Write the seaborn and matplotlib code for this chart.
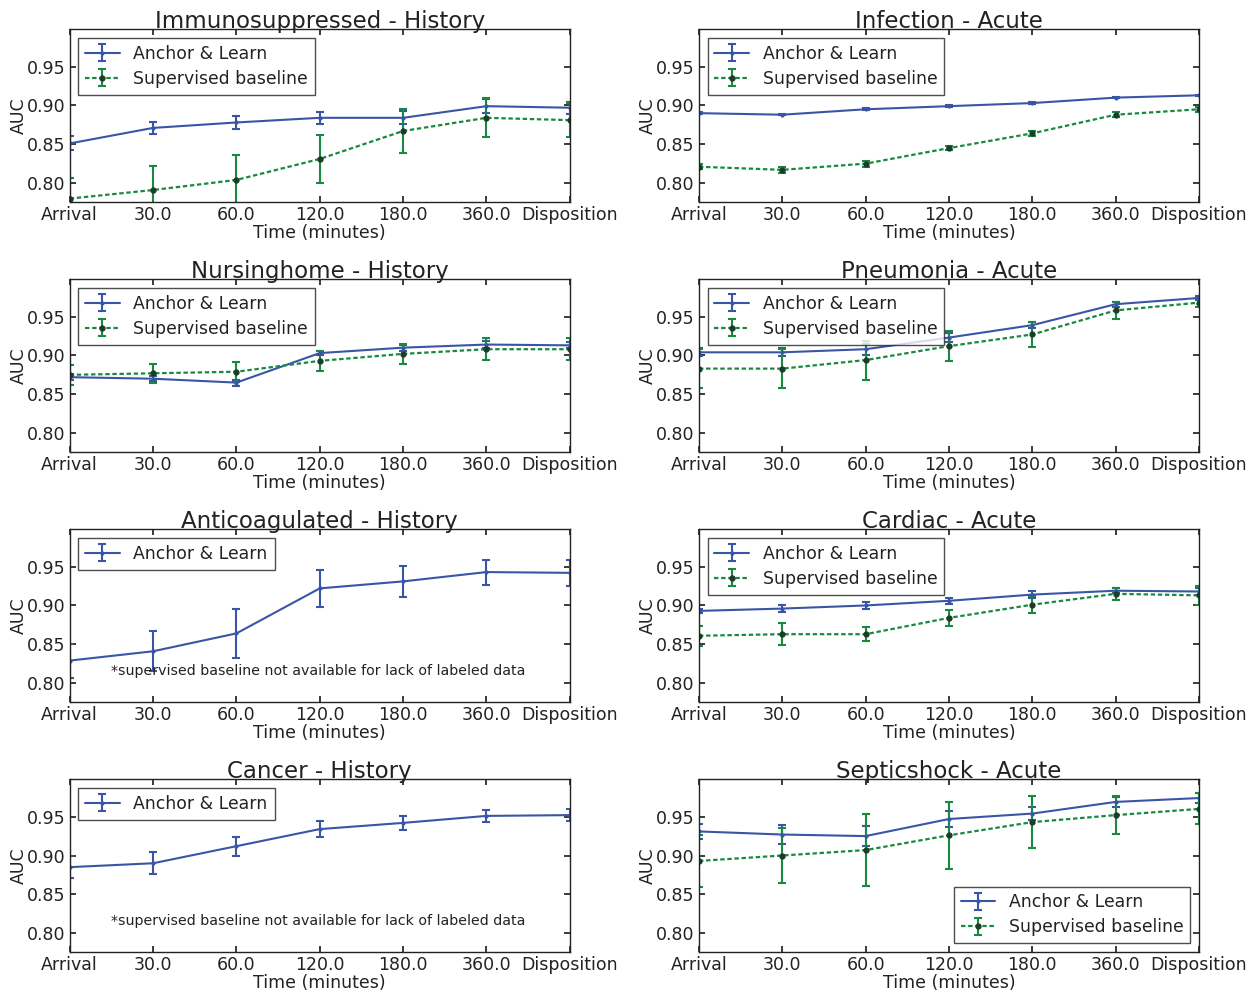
import matplotlib
matplotlib.use("Agg")
import matplotlib.pyplot as plt
import seaborn as sns
import numpy as np

# ---------------------------------------------------------------------------
# Data
# ---------------------------------------------------------------------------
time_labels = ["Arrival", "30.0", "60.0", "120.0", "180.0", "360.0", "Disposition"]

panel_titles = [
    "Immunosuppressed - History", "Infection - Acute",
    "Nursinghome - History", "Pneumonia - Acute",
    "Anticoagulated - History", "Cardiac - Acute",
    "Cancer - History", "Septicshock - Acute",
]

# Anchor & Learn / supervised baseline mean AUC and error
immuno_anchor = [0.851, 0.871, 0.878, 0.884, 0.884, 0.899, 0.897]
immuno_anchor_err = [0.009, 0.008, 0.008, 0.008, 0.0085, 0.009, 0.008]
immuno_sup = [0.780, 0.791, 0.804, 0.831, 0.867, 0.884, 0.881]
immuno_sup_err = [0.026, 0.031, 0.032, 0.031, 0.028, 0.025, 0.022]

infect_anchor = [0.890, 0.888, 0.895, 0.899, 0.903, 0.910, 0.913]
infect_anchor_err = [0.001, 0.001, 0.001, 0.001, 0.001, 0.001, 0.001]
infect_sup = [0.821, 0.817, 0.825, 0.845, 0.864, 0.888, 0.895]
infect_sup_err = [0.003, 0.004, 0.004, 0.003, 0.003, 0.003, 0.003]

nursing_anchor = [0.872, 0.870, 0.865, 0.903, 0.910, 0.914, 0.913]
nursing_anchor_err = [0.004, 0.003, 0.004, 0.003, 0.004, 0.005, 0.004]
nursing_sup = [0.875, 0.877, 0.879, 0.893, 0.902, 0.908, 0.908]
nursing_sup_err = [0.013, 0.012, 0.013, 0.013, 0.013, 0.014, 0.014]

pneu_anchor = [0.904, 0.904, 0.908, 0.923, 0.939, 0.966, 0.974]
pneu_anchor_err = [0.005, 0.005, 0.007, 0.006, 0.004, 0.003, 0.003]
pneu_sup = [0.883, 0.883, 0.894, 0.912, 0.927, 0.958, 0.968]
pneu_sup_err = [0.025, 0.025, 0.025, 0.019, 0.016, 0.011, 0.006]

anticoag_anchor = [0.829, 0.841, 0.864, 0.922, 0.931, 0.943, 0.942]
anticoag_anchor_err = [0.022, 0.026, 0.032, 0.024, 0.020, 0.016, 0.017]

cardiac_anchor = [0.893, 0.896, 0.900, 0.906, 0.914, 0.919, 0.918]
cardiac_anchor_err = [0.003, 0.004, 0.004, 0.004, 0.004, 0.003, 0.004]
cardiac_sup = [0.861, 0.863, 0.863, 0.884, 0.901, 0.915, 0.913]
cardiac_sup_err = [0.013, 0.014, 0.009, 0.010, 0.011, 0.008, 0.012]

cancer_anchor = [0.885, 0.890, 0.912, 0.934, 0.942, 0.951, 0.952]
cancer_anchor_err = [0.014, 0.014, 0.012, 0.010, 0.009, 0.008, 0.008]

septic_anchor = [0.931, 0.927, 0.925, 0.947, 0.954, 0.969, 0.974]
septic_anchor_err = [0.010, 0.012, 0.0125, 0.010, 0.008, 0.006, 0.006]
septic_sup = [0.893, 0.900, 0.907, 0.926, 0.943, 0.952, 0.960]
septic_sup_err = [0.034, 0.035, 0.046, 0.043, 0.033, 0.024, 0.020]

panels = [
    (immuno_anchor, immuno_anchor_err, immuno_sup, immuno_sup_err),
    (infect_anchor, infect_anchor_err, infect_sup, infect_sup_err),
    (nursing_anchor, nursing_anchor_err, nursing_sup, nursing_sup_err),
    (pneu_anchor, pneu_anchor_err, pneu_sup, pneu_sup_err),
    (anticoag_anchor, anticoag_anchor_err, None, None),
    (cardiac_anchor, cardiac_anchor_err, cardiac_sup, cardiac_sup_err),
    (cancer_anchor, cancer_anchor_err, None, None),
    (septic_anchor, septic_anchor_err, septic_sup, septic_sup_err),
]

BLUE = "#3a55a6"
GREEN = "#178a40"
DARK = "#1d3b2b"
INK = "#222222"

sns.set_theme(style="ticks")
plt.rcParams.update({
    "font.family": ["DejaVu Sans"],
    "axes.edgecolor": INK,
    "axes.linewidth": 1.0,
    "xtick.direction": "in",
    "ytick.direction": "in",
    "xtick.top": True,
    "ytick.right": True,
    "xtick.major.size": 4,
    "ytick.major.size": 4,
    "xtick.color": INK,
    "ytick.color": INK,
    "text.color": INK,
    "axes.labelcolor": INK,
})

fig = plt.figure(figsize=(12.58, 9.93), dpi=100)
x = np.arange(len(time_labels))

for i, (title, (a, a_err, s, s_err)) in enumerate(zip(panel_titles, panels)):
    row, col = divmod(i, 2)
    left = 0.0554 if col == 0 else 0.5556
    bottom = 0.7969 - row * 0.2518
    ax = fig.add_axes([left, bottom, 0.3975, 0.1736])

    ax.errorbar(x, a, yerr=a_err, color=BLUE, lw=1.5, marker=".", ms=4,
                capsize=3, capthick=1.5, elinewidth=1.5, label="Anchor & Learn")
    if s is not None:
        ax.errorbar(x, s, yerr=s_err, color=GREEN, lw=1.6, ls=(0, (2, 1.2)),
                    marker="o", ms=3.5, mfc=DARK, mec=DARK, capsize=3,
                    capthick=1.5, elinewidth=1.5, label="Supervised baseline")
    else:
        ax.text(0.5, 0.8155, "*supervised baseline not available for lack of labeled data",
                fontsize=10.2, ha="left", va="center")

    ax.set_xlim(0, 6)
    ax.set_ylim(0.776, 0.998)
    ax.set_yticks([0.80, 0.85, 0.90, 0.95])
    ax.set_yticklabels(["0.80", "0.85", "0.90", "0.95"])
    ax.set_xticks(x)
    ax.set_xticklabels(time_labels)
    ax.tick_params(labelsize=12.5, pad=3)
    ax.set_title(title, fontsize=16.5, pad=0, y=1.006)
    ax.set_xlabel("Time (minutes)", fontsize=12.5, labelpad=0)
    ax.set_ylabel("AUC", fontsize=12.5)
    ax.yaxis.set_label_coords(-0.084, 0.5)

    loc = "lower right" if i == 7 else "upper left"
    leg = ax.legend(loc=loc, fontsize=12.4, frameon=True, fancybox=False,
                    handlelength=2.0, handletextpad=0.8, borderpad=0.4,
                    labelspacing=0.4)
    leg.get_frame().set_edgecolor(INK)
    leg.get_frame().set_linewidth(1.0)

fig.savefig("out.png", dpi=100)
